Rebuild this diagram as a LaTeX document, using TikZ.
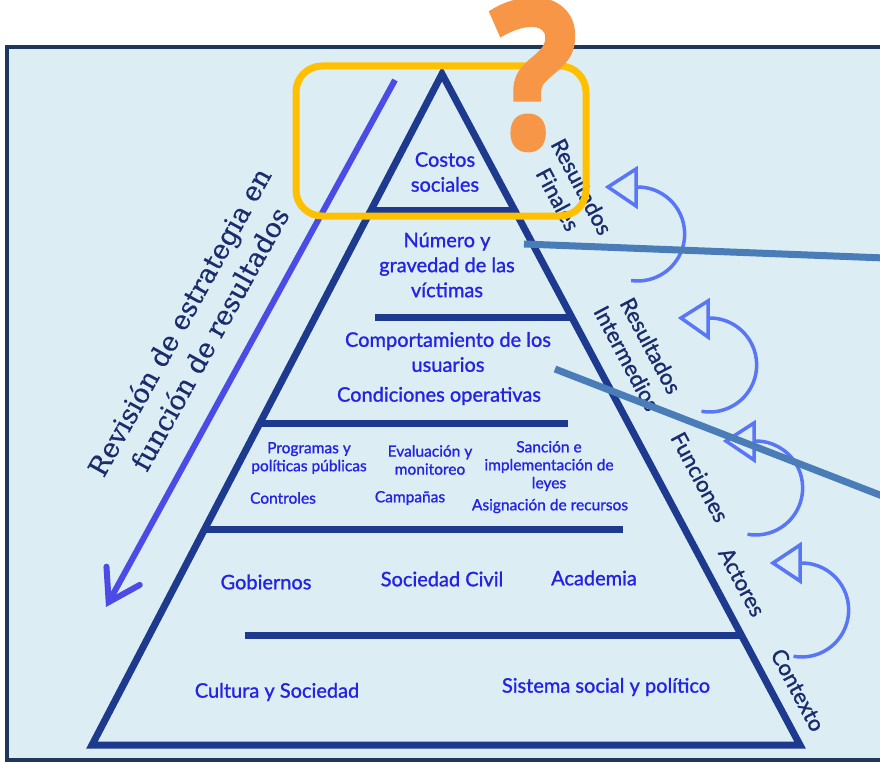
\documentclass[tikz,border=0pt]{standalone}
\usepackage{fontspec}
\usepackage{graphicx}
\setmainfont{Lato}[UprightFeatures={FakeBold=1.2}]
\newfontfamily\revfont{DejaVu Serif}[UprightFeatures={FakeBold=0.6}]
\newfontfamily\qfont{Open Sans}[BoldFeatures={FakeBold=2.5}]
\usetikzlibrary{arrows.meta}
\definecolor{bgc}{RGB}{220,238,244}
\definecolor{framec}{RGB}{30,56,92}
\definecolor{pyr}{RGB}{30,58,142}
\definecolor{txt}{RGB}{35,35,230}
\definecolor{lab}{RGB}{26,44,108}
\definecolor{arcc}{RGB}{88,118,245}
\definecolor{steel}{RGB}{74,124,184}
\definecolor{diag}{RGB}{75,75,230}
\definecolor{yel}{RGB}{255,192,0}
\definecolor{ora}{RGB}{247,150,70}
\tikzset{
  pyrline/.style={pyr, line width=7pt},
  big/.style={txt, align=center, inner sep=0pt, font=\fontsize{20}{25}\selectfont},
  small/.style={txt, align=center, inner sep=0pt, font=\fontsize{15.5}{18}\selectfont},
  side/.style={lab, align=center, inner sep=0pt, rotate=-62, font=\fontsize{22}{27}\selectfont},
  cyc/.style={arcc, line width=3.5pt},
  cychead/.style={arcc, line width=3.5pt, fill=bgc, line join=miter},
  steelline/.style={steel, line width=7pt},
}
\begin{document}
\begin{tikzpicture}[x=1pt, y=-1pt]
\useasboundingbox (0,0) rectangle (880,762);
\fill[white] (0,0) rectangle (880,762);
% frame
\draw[framec, line width=4pt, fill=bgc] (7,47) rectangle (900,760);

% pyramid
\coordinate (apex) at (442,74);
\coordinate (bl) at (92,745);
\coordinate (br) at (800,745);
\draw[pyrline, line join=miter] (apex) -- (bl) -- (br) -- cycle;
\coordinate (h1a) at (371,210); \coordinate (h1b) at (515,210);
\coordinate (h2a) at (375,317); \coordinate (h2b) at (572,317);
\coordinate (h3a) at (260,423); \coordinate (h3b) at (568,423);
\coordinate (h4a) at (205,529); \coordinate (h4b) at (623,529);
\coordinate (h5a) at (245,635); \coordinate (h5b) at (741,635);
\draw[pyrline] (h1a) -- (h1b);
\draw[pyrline] (h2a) -- (h2b);
\draw[pyrline] (h3a) -- (h3b);
\draw[pyrline] (h4a) -- (h4b);
\draw[pyrline] (h5a) -- (h5b);

% texts in pyramid
\node[big] (costos) at (445,172) {Costos\\sociales};
\node[big] (numero) at (447,265) {Número y\\gravedad de las\\víctimas};
\node[big] (comport) at (448,352) {Comportamiento de los\\usuarios};
\node[big] (condic) at (439,396) {Condiciones operativas};
\node[small] (progr) at (309,458) {Programas y\\políticas públicas};
\node[small] (evalu) at (430,460) {Evaluación y\\monitoreo};
\node[small] (sancion) at (549,466) {Sanción e\\implementación de\\leyes};
\node[small] (control) at (283,498) {Controles};
\node[small] (campan) at (410,498) {Campañas};
\node[small] (asign) at (550,506) {Asignación de recursos};
\node[big] (gob) at (266,582) {Gobiernos};
\node[big] (socciv) at (442,579) {Sociedad Civil};
\node[big] (acad) at (594,578) {Academia};
\node[big] (cultura) at (277,692) {Cultura y Sociedad};
\node[big] (sistema) at (606,687) {Sistema social y político};

% side labels
\node[side] (rfin) at (570,193) {Resultados\\Finales};
\node[side] (rint) at (639,352) {Resultados\\Intermedios};
\node[side] (func) at (700,477) {Funciones};
\node[side] (act) at (742,582) {Actores};
\node[side] (ctx) at (798,690) {Contexto};

% cycle arrows
\draw[cyc] (636,187) arc[start angle=-92, end angle=98, radius=47];
\draw[cychead] (608,187) -- (636,169) -- (636,206) -- cycle;
\draw[cyc] (708,318) arc[start angle=-92, end angle=100, radius=47];
\draw[cychead] (681,318) -- (708,301) -- (708,337) -- cycle;
\draw[cyc] (754,441) arc[start angle=-92, end angle=100, radius=47];
\draw[cychead] (726,441) -- (754,423) -- (754,460) -- cycle;
\draw[cyc] (800,563) arc[start angle=-92, end angle=100, radius=47];
\draw[cychead] (773,563) -- (800,545) -- (800,581) -- cycle;

% diagonal arrow and text
\coordinate (dstart) at (395,80);
\coordinate (dend) at (106,607);
\draw[diag, line width=6pt, -{Straight Barb[length=30pt, width=38pt, line cap=round]}] (dstart) -- (dend);
\node[lab, align=center, inner sep=0pt, rotate=61, font=\revfont\fontsize{27}{35}\selectfont] (rev) at (194,330) {Revisión de estrategia en\\función de resultados};

% steel lines
\coordinate (s1a) at (524,244); \coordinate (s1b) at (885,258);
\coordinate (s2a) at (555,369); \coordinate (s2b) at (885,497);
\draw[steelline] (s1a) -- (s1b);
\draw[steelline] (s2a) -- (s2b);

% yellow highlight box
\draw[yel, line width=7pt, rounded corners=26pt] (296,66) rectangle (586,216);

% question mark
\node[ora, inner sep=0pt, anchor=south west] (qm) at (491,150) {\resizebox{86pt}{147pt}{\qfont\bfseries ?}};
\end{tikzpicture}
\end{document}
